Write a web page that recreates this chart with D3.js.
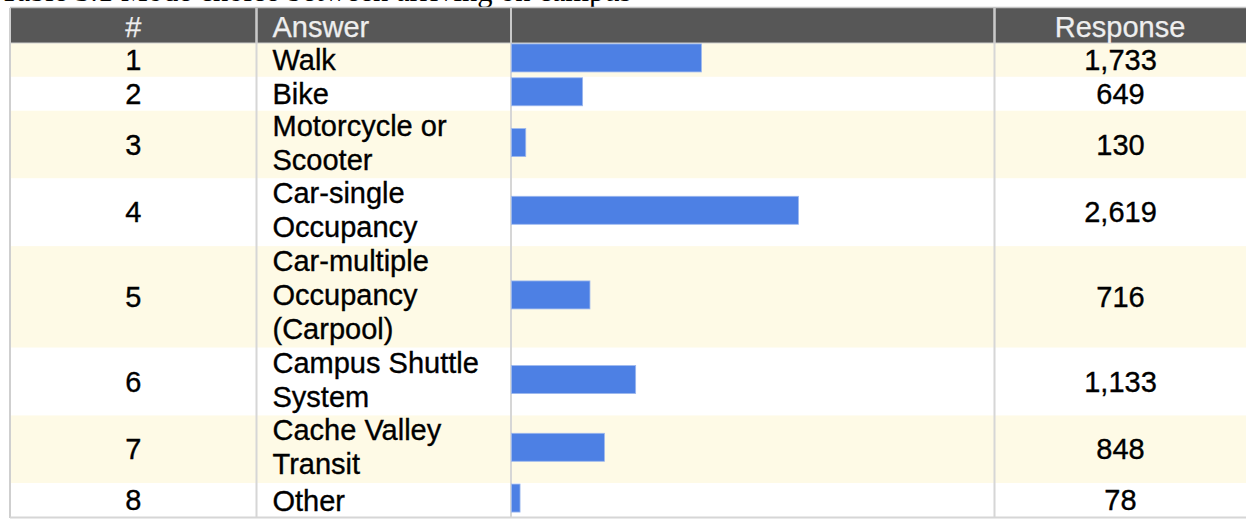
<!DOCTYPE html>
<html>
<head>
<meta charset="utf-8">
<script src="https://cdn.jsdelivr.net/npm/d3@7"></script>
<style>
  html, body { margin: 0; padding: 0; background: #ffffff; overflow: hidden; }
  svg { display: block; }
</style>
</head>
<body>
<svg id="chart" width="1246" height="521"></svg>
<script>
// ---- data ----
const captionText = "Table 3.1 Mode choice between arriving on campus";
const headers = ["#", "Answer", "", "Response"];
const ids = [1, 2, 3, 4, 5, 6, 7, 8];
const answers = [
  ["Walk"],
  ["Bike"],
  ["Motorcycle or", "Scooter"],
  ["Car-single", "Occupancy"],
  ["Car-multiple", "Occupancy", "(Carpool)"],
  ["Campus Shuttle", "System"],
  ["Cache Valley", "Transit"],
  ["Other"]
];
const responses = [1733, 649, 130, 2619, 716, 1133, 848, 78];

// ---- layout ----
const W = 1246, H = 521;
const tableLeft = 10, tableRight = 1250;
const headerTop = 8, headerBottom = 43, tableBottom = 517;
const colEdges = [tableLeft, 256.5, 511, 994.5, tableRight];
const lineH = 34;
const fontMain = "'Liberation Sans', Arial, Helvetica, sans-serif";

const svg = d3.select("#chart");

// caption (mostly clipped at top, as in the source page)
svg.append("text")
  .attr("x", 0).attr("y", 0.5)
  .attr("font-family", "'Liberation Serif', 'Times New Roman', serif")
  .attr("font-size", 30.5)
  .attr("fill", "#000")
  .text(captionText);

// row vertical positions from cumulative line counts
const lineCounts = answers.map(a => a.length);
const cum = [0];
lineCounts.forEach(n => cum.push(cum[cum.length - 1] + n));
const yLines = d3.scaleLinear().domain([0, cum[cum.length - 1]]).range([headerBottom, tableBottom]);

const rows = ids.map((id, i) => ({
  id, answer: answers[i], value: responses[i],
  y0: yLines(cum[i]), y1: yLines(cum[i + 1])
}));

// bar scale
const x = d3.scaleLinear().domain([0, 2619]).range([colEdges[2] + 0.5, 798.5]);

// header background
svg.append("rect")
  .attr("x", tableLeft).attr("y", headerTop)
  .attr("width", tableRight - tableLeft).attr("height", headerBottom - headerTop)
  .attr("fill", "#575757");
svg.append("line")
  .attr("x1", tableLeft).attr("x2", tableRight)
  .attr("y1", headerTop - 0.5).attr("y2", headerTop - 0.5)
  .attr("stroke", "#c4c4c4").attr("stroke-width", 1.5);

// row backgrounds
svg.append("g").selectAll("rect").data(rows).join("rect")
  .attr("x", tableLeft).attr("y", d => d.y0)
  .attr("width", tableRight - tableLeft).attr("height", d => d.y1 - d.y0)
  .attr("fill", (d, i) => i % 2 === 0 ? "#fefae6" : "#ffffff");

// vertical dividers
svg.append("g").selectAll("line").data(colEdges.slice(1, 4)).join("line")
  .attr("x1", d => d).attr("x2", d => d)
  .attr("y1", headerTop).attr("y2", tableBottom)
  .attr("stroke", "#d6d6d6").attr("stroke-width", 2);
// header dividers (lighter on dark)
svg.append("g").selectAll("line").data(colEdges.slice(1, 4)).join("line")
  .attr("x1", d => d).attr("x2", d => d)
  .attr("y1", headerTop).attr("y2", headerBottom)
  .attr("stroke", "#c9c9c9").attr("stroke-width", 2);

// outer borders
svg.append("line")
  .attr("x1", tableLeft).attr("x2", tableLeft)
  .attr("y1", headerTop).attr("y2", tableBottom + 1)
  .attr("stroke", "#cfcfcf").attr("stroke-width", 2);
svg.append("line")
  .attr("x1", tableLeft).attr("x2", tableRight)
  .attr("y1", tableBottom + 0.5).attr("y2", tableBottom + 0.5)
  .attr("stroke", "#d6d6d6").attr("stroke-width", 2);
svg.append("line")
  .attr("x1", tableLeft).attr("x2", tableRight)
  .attr("y1", headerBottom).attr("y2", headerBottom)
  .attr("stroke", "#cfcfcf").attr("stroke-width", 1);

// header text
const hdr = svg.append("g")
  .attr("font-family", fontMain).attr("font-size", 29)
  .attr("fill", "#eeeeee").attr("stroke", "#eeeeee").attr("stroke-width", 0.25);
hdr.append("text").attr("x", (colEdges[0] + colEdges[1]) / 2).attr("y", 36.5)
  .attr("text-anchor", "middle").text(headers[0]);
hdr.append("text").attr("x", 272.5).attr("y", 36.5).text(headers[1]);
hdr.append("text").attr("x", 1120).attr("y", 36.5)
  .attr("text-anchor", "middle").text(headers[3]);

// body
const body = svg.append("g")
  .attr("font-family", fontMain).attr("font-size", 29)
  .attr("fill", "#000").attr("stroke", "#000").attr("stroke-width", 0.35);
const fmt = d3.format(",");

rows.forEach(r => {
  const c = (r.y0 + r.y1) / 2;
  body.append("text")
    .attr("x", (colEdges[0] + colEdges[1]) / 2).attr("y", c + 10)
    .attr("text-anchor", "middle").text(r.id);
  const n = r.answer.length;
  const off = n === 1 ? 10.5 : 8;
  r.answer.forEach((line, i) => {
    body.append("text")
      .attr("x", 272.5)
      .attr("y", c + (i - (n - 1) / 2) * lineH + off)
      .text(line);
  });
  body.append("text")
    .attr("x", 1120.5).attr("y", c + 10)
    .attr("text-anchor", "middle").text(fmt(r.value));
});

// bars
svg.append("g").selectAll("rect").data(rows).join("rect")
  .attr("x", x(0))
  .attr("y", d => (d.y0 + d.y1) / 2 - 16)
  .attr("width", d => x(d.value) - x(0))
  .attr("height", 28)
  .attr("fill", "#4d80e4")
  .attr("stroke", "#9db8ee").attr("stroke-width", 0.8);
</script>
</body>
</html>
